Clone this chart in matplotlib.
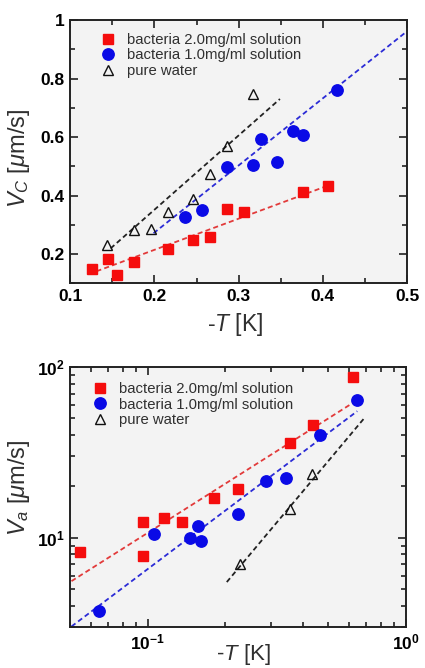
import matplotlib
matplotlib.use("Agg")
import matplotlib.pyplot as plt
from matplotlib.ticker import FixedLocator, FixedFormatter, MultipleLocator, LogLocator, NullFormatter

plt.rcParams['font.family'] = ['Liberation Sans', 'DejaVu Sans']
plt.rcParams['mathtext.fontset'] = 'custom'
plt.rcParams['mathtext.rm'] = 'Liberation Sans'
plt.rcParams['mathtext.it'] = 'Liberation Sans:italic'
plt.rcParams['mathtext.bf'] = 'Liberation Sans:bold'

# ---------------- data: top panel (linear) ----------------
top_red_x = [0.126, 0.145, 0.156, 0.176, 0.216, 0.246, 0.266, 0.286, 0.306, 0.376, 0.406]
top_red_y = [0.147, 0.182, 0.128, 0.171, 0.217, 0.248, 0.257, 0.354, 0.342, 0.411, 0.431]
top_blue_x = [0.236, 0.256, 0.286, 0.317, 0.327, 0.346, 0.365, 0.376, 0.417]
top_blue_y = [0.328, 0.349, 0.496, 0.503, 0.594, 0.513, 0.622, 0.608, 0.762]
top_tri_x = [0.144, 0.176, 0.196, 0.216, 0.246, 0.266, 0.286, 0.317]
top_tri_y = [0.231, 0.282, 0.285, 0.343, 0.389, 0.473, 0.568, 0.747]
top_fit_red_x = [0.122, 0.409]
top_fit_red_y = [0.131, 0.437]
top_fit_blue_x = [0.199, 0.500]
top_fit_blue_y = [0.271, 0.962]
top_fit_tri_x = [0.148, 0.349]
top_fit_tri_y = [0.219, 0.730]

# ---------------- data: bottom panel (log-log) ----------------
bot_red_x = [0.0548, 0.0957, 0.0957, 0.1153, 0.1355, 0.1808, 0.2243, 0.357, 0.4355, 0.622]
bot_red_y = [8.24, 7.82, 12.4, 13.0, 12.4, 17.1, 19.4, 35.9, 45.5, 87.3]
bot_blue_x = [0.0647, 0.1054, 0.1455, 0.156, 0.1606, 0.2243, 0.2858, 0.344, 0.466, 0.645]
bot_blue_y = [3.70, 10.46, 9.95, 11.65, 9.52, 13.8, 21.4, 22.5, 39.8, 63.8]
bot_tri_x = [0.227, 0.357, 0.432]
bot_tri_y = [7.04, 14.8, 23.7]
bot_fit_red_x = [0.0506, 0.645]
bot_fit_red_y = [5.57, 63.8]
bot_fit_blue_x = [0.0506, 0.648]
bot_fit_blue_y = [3.02, 55.2]
bot_fit_tri_x = [0.2023, 0.695]
bot_fit_tri_y = [5.50, 50.9]

labels = ['bacteria 2.0mg/ml solution', 'bacteria 1.0mg/ml solution', 'pure water']
top_xticks = [0.1, 0.2, 0.3, 0.4, 0.5]
top_yticks = [0.2, 0.4, 0.6, 0.8, 1.0]
top_yticklabels = ['0.2', '0.4', '0.6', '0.8', '1']
bot_xticks = [0.1, 1.0]
bot_xticklabels = [r'$\mathbf{10^{-1}}$', r'$\mathbf{10^{0}}$']
bot_yticks = [10, 100]
bot_yticklabels = [r'$\mathbf{10^{1}}$', r'$\mathbf{10^{2}}$']

RED = '#f50d0d'
BLUE = '#0a0ae6'
LRED = '#e23a3a'
LBLUE = '#2b2bd6'
FACE = '#f3f3f3'
TXT = '#303030'

fig = plt.figure(figsize=(4.25, 6.68), dpi=100)
ax1 = fig.add_axes([0.165, 0.576, 0.793, 0.394])
ax2 = fig.add_axes([0.165, 0.0614, 0.790, 0.389])

dash = (0, (2.8, 1.8))

def style(ax):
    ax.set_facecolor(FACE)
    for s in ax.spines.values():
        s.set_linewidth(1.4)
        s.set_color('#222222')
    ax.tick_params(which='both', direction='in', top=True, right=True, width=1.2, color='#222222')
    ax.tick_params(which='major', length=5.5, labelsize=12.5, pad=4)
    ax.tick_params(which='minor', length=3.5)
    for lab in ax.get_xticklabels() + ax.get_yticklabels():
        lab.set_fontweight('bold')

def draw(ax, rx, ry, bx, by, tx, ty, frx, fry, fbx, fby, ftx, fty):
    ax.plot(frx, fry, linestyle=dash, color=LRED, lw=1.3, zorder=2)
    ax.plot(fbx, fby, linestyle=dash, color=LBLUE, lw=1.3, zorder=2)
    ax.plot(ftx, fty, linestyle=dash, color='#222222', lw=1.3, zorder=2)
    ax.plot(rx, ry, 's', color=RED, ms=7.6, mec=RED, label=labels[0], zorder=3, clip_on=False)
    ax.plot(bx, by, 'o', color=BLUE, ms=8.2, mec=BLUE, label=labels[1], zorder=3, clip_on=False)
    ax.plot(tx, ty, '^', mfc='none', mec='#111111', mew=1.0, ms=7.2, label=labels[2], zorder=3, clip_on=False)

def legend(ax, anchor):
    leg = ax.legend(loc='upper left', frameon=False, fontsize=10.7, labelspacing=0.1,
                    handlelength=1.0, handletextpad=0.8, borderaxespad=0.2,
                    bbox_to_anchor=anchor)
    for t in leg.get_texts():
        t.set_color(TXT)

# top panel
draw(ax1, top_red_x, top_red_y, top_blue_x, top_blue_y, top_tri_x, top_tri_y,
     top_fit_red_x, top_fit_red_y, top_fit_blue_x, top_fit_blue_y, top_fit_tri_x, top_fit_tri_y)
ax1.set_xlim(0.1, 0.5)
ax1.set_ylim(0.1, 1.0)
ax1.xaxis.set_major_locator(FixedLocator(top_xticks))
ax1.xaxis.set_minor_locator(MultipleLocator(0.05))
ax1.yaxis.set_major_locator(FixedLocator(top_yticks))
ax1.yaxis.set_major_formatter(FixedFormatter(top_yticklabels))
ax1.yaxis.set_minor_locator(MultipleLocator(0.1))
style(ax1)
ax1.set_xlabel(r'-$T$ [K]', fontsize=16.5, color=TXT)
ax1.xaxis.set_label_coords(0.49, -0.105)
ax1.set_ylabel(r'$V_C$ [$\mu$m/s]', fontsize=17, color=TXT)
ax1.yaxis.set_label_coords(-0.113, 0.475)
legend(ax1, (0.063, 0.985))

# bottom panel
draw(ax2, bot_red_x, bot_red_y, bot_blue_x, bot_blue_y, bot_tri_x, bot_tri_y,
     bot_fit_red_x, bot_fit_red_y, bot_fit_blue_x, bot_fit_blue_y, bot_fit_tri_x, bot_fit_tri_y)
ax2.set_xscale('log')
ax2.set_yscale('log')
ax2.set_xlim(0.05, 1.0)
ax2.set_ylim(3.0, 100)
ax2.xaxis.set_major_locator(FixedLocator(bot_xticks))
ax2.xaxis.set_major_formatter(FixedFormatter(bot_xticklabels))
ax2.xaxis.set_minor_locator(LogLocator(base=10, subs=[2, 3, 4, 5, 6, 7, 8, 9]))
ax2.xaxis.set_minor_formatter(NullFormatter())
ax2.yaxis.set_major_locator(FixedLocator(bot_yticks))
ax2.yaxis.set_major_formatter(FixedFormatter(bot_yticklabels))
ax2.yaxis.set_minor_locator(LogLocator(base=10, subs=[2, 3, 4, 5, 6, 7, 8, 9]))
ax2.yaxis.set_minor_formatter(NullFormatter())
style(ax2)
ax2.set_xlabel(r'-$T$ [K]', fontsize=16, color=TXT)
ax2.xaxis.set_label_coords(0.515, -0.058)
ax2.set_ylabel(r'$V_a$ [$\mu$m/s]', fontsize=17, color=TXT)
ax2.yaxis.set_label_coords(-0.113, 0.535)
legend(ax2, (0.040, 0.977))

fig.savefig('out.png', dpi=100, facecolor='white')
